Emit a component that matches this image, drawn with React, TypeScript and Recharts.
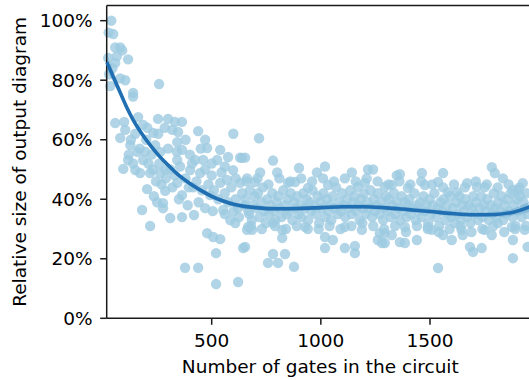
import React from 'react';
import { ComposedChart, Scatter, Line, Area, XAxis, YAxis, Label, ReferenceLine } from 'recharts';

// ---- data (gates in circuit, relative size %) ----
const pointsSmall: [number, number][] = [
  [40,100],[28,96],[49,95.5],[58,91],[81,91],[90,90],[117,87],[58,85.8],[26,87.5],[35,78],[81,80.6],[104,80],
  [140,75.7],[140,74.5],[259,78.7],[58,65.6],[99,66],[163,67.6],[254,67],[81,60.6],[104,63.3],[186,65],[232,62.3],
  [127,58.2],[159,55.9],[241,58.2],[264,55.9],[117,53.2],[186,53.2],[95,50.2],[150,49.8],[204,43.4],[181,36.4],
  [218,31],[172,48.8],[218,48.8],[264,48.8],[287,42.8],[277,38.7],[277,37],[30,82],[45,84],[65,88],[130,60],
  [150,62],[170,57],[200,60],[210,52],[230,50],[245,46],[195,56],[225,55],[260,52],[270,45],[290,50],[235,41],
  [250,39],[140,52],[120,55],[290,47],[255,62],[285,64],[205,64]
];

const pointsMid: [number, number][] = [
  [300,67],[332,66],[364,66],[319,63.3],[346,62.6],[438,62.9],[599,62],[342,59.2],[364,56.6],[479,57.2],[539,56.6],
  [575,54.2],[639,53.9],[342,53.2],[424,53.2],[461,53.2],[525,53.2],[310,33.7],[364,34],[419,34.7],[364,41.4],
  [342,45.5],[401,49.8],[447,48.8],[415,44],[493,41.4],[539,45.5],[570,46.5],[598,49.8],[630,45.5],[662,47],
  [553,36.4],[585,33],[608,32],[662,29.7],[644,23.6],[479,28.6],[507,27.3],[539,26.6],[520,21.9],[378,17],[438,17],
  [520,11.5],[621,12.2],[630,54],[310,50],[330,48],[355,51],[380,47],[395,44],[410,52],[430,46],[455,43],[470,50],
  [485,45],[500,48],[510,43],[530,40],[545,49],[560,42],[575,39],[590,44],[610,40],[620,37],[640,42],[320,44],
  [350,40],[390,38],[440,39],[470,37],[505,36],[560,35],[600,36],[625,34],[650,38],[340,56],[400,55],[450,57],
  [500,52],[560,51],[610,47],[300,57],[380,60],[470,60]
];

const pointsLargeOutliers: [number, number][] = [
  [717,60.5],[653,54],[781,53],[800,49],[722,49],[900,50.5],[982,49],[1019,51],[1142,49],[1216,50],[1239,50],
  [699,45.8],[850,45.5],[882,45.8],[941,43.8],[1033,44.8],[1170,44.2],[1202,45.5],[1293,44.2],
  [685,29.7],[653,24],[781,32],[823,29.7],[823,27],[928,30.7],[1019,27.3],[1055,26.3],[1019,23.6],[1110,23.6],
  [1156,24.3],[1156,21.9],[781,21.6],[836,21.6],[758,18.6],[804,18.6],[877,17.3],[1110,30.7],[1188,29.7],
  [1261,26.3],[1280,25.3],[1270,28.6],[667,30.7],
  [1783,50.8],[1797,48.8],[1834,47],[1463,48.8],[1560,48.8],[1537,45.8],[1348,48],[1362,48.4],[1670,45.4],
  [1715,44.1],[1902,43.1],[1925,45.4],[1880,43.1],[1399,43.8],[1477,44.8],[1623,42.4],[1582,42.4],[1751,44.1],
  [1325,44.8],
  [1537,16.9],[1880,20.2],[1880,26.3],[1947,24],[1683,24],[1737,23.6],[1697,22.3],[1560,28],[1600,26.3],
  [1440,26.3],[1362,25.6],[1385,25.3],[1293,25.3],[1293,28.6],[1508,29.7],[1645,29.7],[1650,28],[1751,29.7],
  [1783,28],[1811,32],[1875,30.7],[1934,29.7],[1490,30.7],[1385,30.7],[1325,28]
];

const pointsLargeBand: [number, number][] = [
  [655,40],[668,36],[675,43],[684,33],[690,38],[697,41],[672,35],
  [705,37],[712,42],[720,34],[728,39],[735,44],[742,36],[748,32],
  [755,40],[762,35],[770,38],[778,42],[785,36],[792,33],[798,39],
  [805,41],[812,37],[820,34],[828,43],[835,38],[842,35],[848,40],
  [855,36],[862,42],[870,33],[877,39],[885,37],[892,41],[898,35],
  [905,38],[912,34],[920,42],[928,37],[935,40],[942,33],[948,39],
  [955,36],[962,43],[970,38],[978,35],[985,41],[992,32],[998,39],
  [1005,37],[1012,42],[1020,34],[1028,40],[1035,36],[1042,38],[1048,33],
  [1055,41],[1062,37],[1070,44],[1078,35],[1085,39],[1092,36],[1098,42],
  [1105,38],[1112,34],[1120,40],[1128,37],[1135,43],[1142,35],[1148,39],
  [1155,41],[1162,36],[1170,38],[1178,33],[1185,40],[1192,37],[1198,42],
  [1205,35],[1212,39],[1220,37],[1228,43],[1235,34],[1242,40],[1248,36],
  [1255,38],[1262,42],[1270,35],[1278,39],[1285,33],[1292,37],[1298,41],
  [1305,36],[1312,40],[1320,34],[1328,38],[1335,42],[1342,35],[1348,39],
  [1355,37],[1362,33],[1370,41],[1378,36],[1385,39],[1392,34],[1398,38],
  [1405,40],[1412,35],[1420,37],[1428,42],[1435,33],[1442,38],[1448,36],
  [1455,39],[1462,34],[1470,41],[1478,36],[1485,38],[1492,32],[1498,40],
  [1505,35],[1512,38],[1520,42],[1528,34],[1535,37],[1542,31],[1548,39],
  [1555,36],[1562,40],[1570,33],[1578,38],[1585,35],[1592,41],[1598,34],
  [1605,37],[1612,32],[1620,39],[1628,35],[1635,41],[1642,33],[1648,38],
  [1655,36],[1662,40],[1670,34],[1678,38],[1685,32],[1692,37],[1698,41],
  [1705,35],[1712,39],[1720,33],[1728,37],[1735,41],[1742,34],[1748,38],
  [1755,36],[1762,40],[1770,33],[1778,38],[1785,35],[1792,42],[1798,37],
  [1805,34],[1812,39],[1820,36],[1828,41],[1835,33],[1842,38],[1848,35],
  [1855,40],[1862,36],[1870,42],[1878,34],[1885,38],[1892,31],[1898,40],
  [1905,36],[1912,41],[1920,34],[1928,39],[1935,37],[1942,42],[1948,35],
  [660,46],[710,47],[760,45],[810,47],[860,46],[910,47],[960,46],[1010,47],[1060,46],[1110,47],[1160,46],
  [1210,47],[1260,46],[1310,45],[1360,46],[1410,45],[1460,46],[1510,45],[1560,44],[1610,45],[1660,44],
  [1710,46],[1760,45],[1810,44],[1860,45],[1910,44],
  [680,31],[730,30],[790,31],[840,30],[890,31],[940,30],[990,30],[1040,31],[1090,30],[1140,31],[1190,32],
  [1240,31],[1290,30],[1340,31],[1390,29],[1440,31],[1490,30],[1540,29],[1590,30],[1640,31],[1690,29],
  [1740,30],[1790,31],[1840,29],[1890,30],[1940,31]
];

// fitted regression curve with confidence band
const fitGates = [20,50,80,110,140,180,220,260,300,350,400,450,500,550,600,650,700,800,900,1000,1100,1200,1300,1400,1500,1600,1700,1800,1870,1976];
const fitSize  = [86,81,76,71,66.7,62,58,54.5,51.5,48,45.3,43,41,39.5,38.3,37.6,37.2,36.8,36.9,37.2,37.5,37.5,37.1,36.5,35.9,35.2,34.8,34.9,35.5,38];
const fitLow   = [83,79,74.4,69.8,65.6,61,57.1,53.7,50.7,47.2,44.5,42.2,40.2,38.7,37.5,36.8,36.4,36,36.1,36.4,36.7,36.7,36.3,35.7,35.1,34.4,34,34,34.4,36];
const fitHigh  = [89,83,77.6,72.2,67.8,63,58.9,55.3,52.3,48.8,46.1,43.8,41.8,40.3,39.1,38.4,38,37.6,37.7,38,38.3,38.3,37.9,37.3,36.7,36,35.6,35.8,36.6,40];

const xTicks = [500, 1000, 1500];
const yTicks = [0, 20, 40, 60, 80, 100];
const xDomain = [19, 1976];
const yDomain = [0, 105.1];

const scatterData = [...pointsSmall, ...pointsMid, ...pointsLargeOutliers, ...pointsLargeBand].map(([g, s]) => ({ gates: g, size: s }));
const fitData = fitGates.map((g, i) => ({ gates: g, size: fitSize[i], band: [fitLow[i], fitHigh[i]] }));

const FONT = 'DejaVu Sans';
const INK = '#1a1a1a';
const tickStyle = { fill: '#000', fontSize: 18.5, fontFamily: FONT };

const Dot = (props: any) => (
  <circle cx={props.cx} cy={props.cy} r={5.2} fill="#9ecae1" fillOpacity={0.8} />
);

export default function App() {
  return (
    <div style={{ position: 'absolute', left: 0, top: 0, width: 529, height: 380, overflow: 'hidden', background: '#fff' }}>
      <ComposedChart width={540} height={380} margin={{ top: 5.5, right: 6.1, left: 0, bottom: 0 }}>
        <XAxis
          type="number"
          dataKey="gates"
          domain={xDomain}
          ticks={xTicks}
          height={61.7}
          tickSize={6.5}
          tickMargin={8.8}
          tick={tickStyle}
          stroke={INK}
          strokeWidth={1.5}
        >
          <Label value="Number of gates in the circuit" position="insideBottom" offset={7.5} style={{ fill: '#000', fontSize: 18.5, fontFamily: FONT }} />
        </XAxis>
        <YAxis
          type="number"
          dataKey="size"
          domain={yDomain}
          ticks={yTicks}
          width={106.7}
          tickSize={6.5}
          tickMargin={7.5}
          tick={tickStyle}
          tickFormatter={(v: number) => `${v}%`}
          stroke={INK}
          strokeWidth={1.5}
        >
          <Label
            content={(p: any) => {
              const vb = p.viewBox || {};
              const x = (vb.x ?? 0) + 26.5;
              const y = (vb.y ?? 0) + (vb.height ?? 0) / 2;
              return (
                <text x={x} y={y} transform={`rotate(-90 ${x} ${y})`} textAnchor="middle" fill="#000" fontSize={18.5} fontFamily={FONT}>
                  Relative size of output diagram
                </text>
              );
            }}
          />
        </YAxis>
        <Scatter data={scatterData} dataKey="size" shape={Dot} isAnimationActive={false} zIndex={100} />
        <Area data={fitData} dataKey="band" type="monotone" stroke="none" fill="#2171b5" fillOpacity={0.18} isAnimationActive={false} zIndex={700} />
        <Line data={fitData} dataKey="size" type="monotone" stroke="#1f6fb2" strokeWidth={3.6} dot={false} isAnimationActive={false} zIndex={800} />
        <ReferenceLine y={yDomain[1]} stroke={INK} strokeWidth={1.5} />
      </ComposedChart>
    </div>
  );
}
